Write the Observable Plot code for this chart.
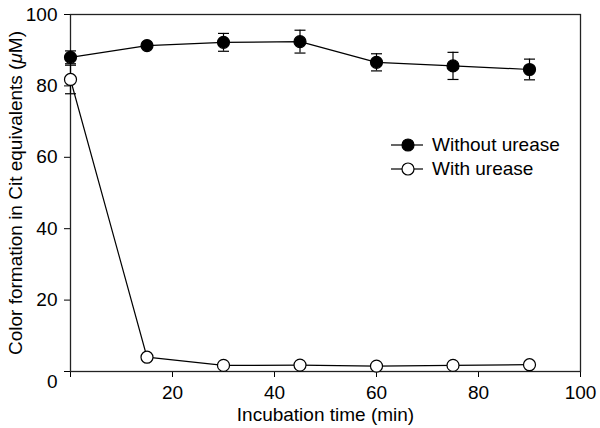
<!DOCTYPE html>
<html><head><meta charset="utf-8">
<script src="https://cdn.jsdelivr.net/npm/d3@7"></script>
<script src="https://cdn.jsdelivr.net/npm/@observablehq/plot@0.6"></script>
<style>
body{margin:0;background:#fff;font-family:"Liberation Sans",Arial,Helvetica,sans-serif;}
#wrap{position:relative;width:600px;height:428px;}
#legend{position:absolute;left:391px;top:133px;font-size:19px;color:#000;}
#legend .row{display:flex;align-items:center;height:24px;}
#legend span{margin-left:9px;}
</style></head><body>
<div id="wrap"><div id="chart"></div><div id="legend"></div></div>
<script>
const times = [0, 15, 30, 45, 60, 75, 90];
const withoutUrease = [88.0, 91.3, 92.2, 92.4, 86.6, 85.6, 84.6];
const withoutUreaseErr = [1.8, 0.5, 2.5, 3.2, 2.4, 3.8, 2.9];
const withUrease = [81.8, 4.0, 1.7, 1.8, 1.5, 1.7, 1.9];
const withUreaseErr = [4.0, 0.3, 0.3, 0.3, 0.3, 0.3, 0.3];
const seriesNames = ["Without urease", "With urease"];
const xTicks = [0, 20, 40, 60, 80, 100];
const yTicks = [0, 20, 40, 60, 80, 100];
const xLabel = "Incubation time (min)";
const yLabel = "Color formation in Cit equivalents (\u03BCM)";

const rows = [];
times.forEach((t, i) => {
  rows.push({t, v: withoutUrease[i], e: withoutUreaseErr[i], s: seriesNames[0]});
  rows.push({t, v: withUrease[i], e: withUreaseErr[i], s: seriesNames[1]});
});
const fills = {[seriesNames[0]]: "black", [seriesNames[1]]: "white"};

const capSymbol = {draw(ctx, size) { const r = Math.sqrt(size / Math.PI); ctx.moveTo(-r, 0); ctx.lineTo(r, 0); }};

const chart = Plot.plot({
  width: 600, height: 428,
  marginLeft: 70, marginRight: 20, marginTop: 14, marginBottom: 57,
  style: {fontSize: "19px", fontFamily: "'Liberation Sans', Arial, Helvetica, sans-serif", color: "black", background: "white"},
  x: {domain: [0, 100]},
  y: {domain: [0, 100]},
  marks: [
    Plot.axisX({ticks: xTicks, tickSize: 6, tickPadding: 8, tickFormat: d => d === 0 ? "" : d, label: null, stroke: "black", strokeOpacity: 1}),
    Plot.axisY({ticks: yTicks, tickSize: 6, tickPadding: 7, tickFormat: d => d === 0 ? "" : d, label: null, stroke: "black", strokeOpacity: 1}),
    Plot.text([yTicks[0]], {x: d => d, y: d => d, text: d => String(d), dx: -13, dy: 10, textAnchor: "end", fill: "black"}),
    Plot.text([xLabel], {frameAnchor: "bottom", dy: 43, lineAnchor: "middle", textAnchor: "middle", text: d => d, fill: "black"}),
    Plot.text([yLabel], {frameAnchor: "left", dx: -55, rotate: -90, lineAnchor: "middle", textAnchor: "middle", text: d => d, fill: "black"}),
    Plot.frame({stroke: "#222", strokeWidth: 1.3}),
    Plot.ruleX(rows, {x: "t", y1: d => d.v - d.e, y2: d => d.v + d.e, stroke: "black", strokeWidth: 1.2}),
    Plot.dot(rows, {x: "t", y: d => d.v + d.e, symbol: capSymbol, r: 5.5, stroke: "black", fill: "none", strokeWidth: 1.2}),
    Plot.dot(rows, {x: "t", y: d => d.v - d.e, symbol: capSymbol, r: 5.5, stroke: "black", fill: "none", strokeWidth: 1.2}),
    Plot.line(rows, {x: "t", y: "v", z: "s", stroke: "black", strokeWidth: 1.2}),
    Plot.dot(rows, {x: "t", y: "v", r: 6, stroke: "black", strokeWidth: 1.2, fill: d => fills[d.s]})
  ]
});
document.getElementById("chart").appendChild(chart);

// italic mu in y label
d3.select(chart).selectAll("text").filter(function() { return this.textContent === yLabel; }).each(function() {
  const t = d3.select(this);
  t.text(null);
  t.append("tspan").text("Color formation in Cit equivalents (");
  t.append("tspan").attr("font-style", "italic").text("\u03BC");
  t.append("tspan").text("M)");
});

const legend = d3.select("#legend");
seriesNames.forEach(name => {
  const row = legend.append("div").attr("class", "row");
  const s = row.append("svg").attr("width", 32).attr("height", 24);
  s.append("line").attr("x1", 0).attr("x2", 32).attr("y1", 12).attr("y2", 12).attr("stroke", "black").attr("stroke-width", 1.2);
  s.append("circle").attr("cx", 17).attr("cy", 12).attr("r", 6).attr("fill", fills[name]).attr("stroke", "black").attr("stroke-width", 1.2);
  row.append("span").text(name);
});
</script>
</body></html>
